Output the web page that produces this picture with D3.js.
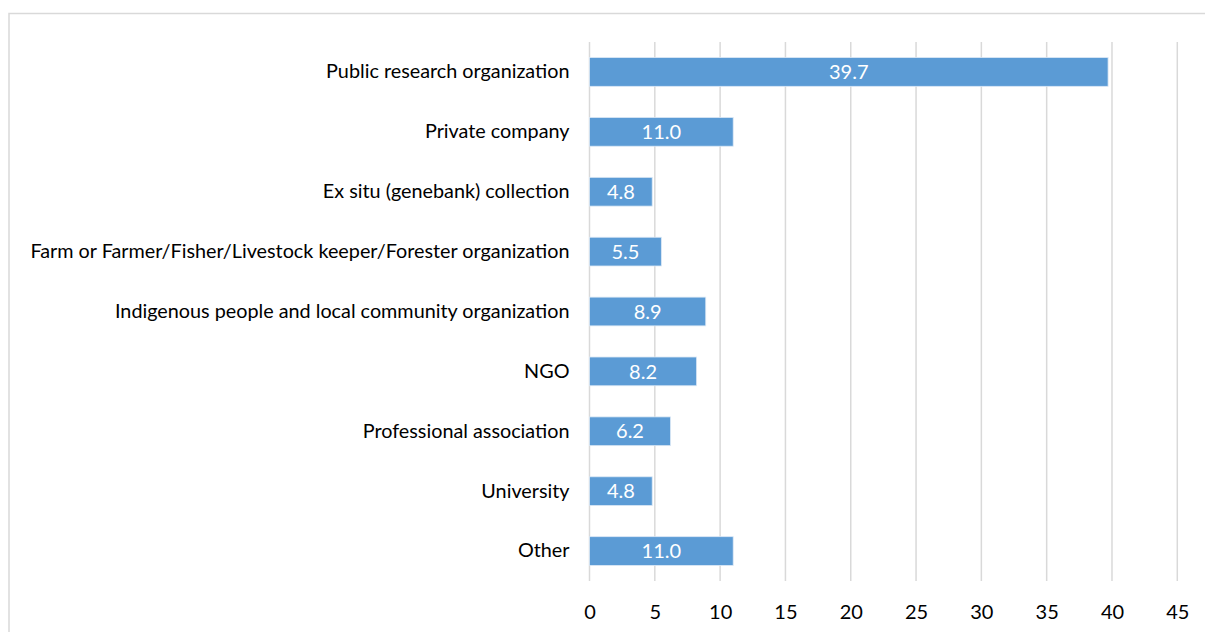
<!DOCTYPE html>
<html>
<head>
<meta charset="utf-8">
<script src="https://cdn.jsdelivr.net/npm/d3@7"></script>
<style>
  body { margin: 0; background: #fff; }
  svg text { font-family: Lato, "Open Sans", sans-serif; }
</style>
</head>
<body>
<script>
const categories = [
    "Public research organization",
    "Private company",
    "Ex situ (genebank) collection",
    "Farm or Farmer/Fisher/Livestock keeper/Forester organization",
    "Indigenous people and local community organization",
    "NGO",
    "Professional association",
    "University",
    "Other"
];
const values = [39.7, 11.0, 4.8, 5.5, 8.9, 8.2, 6.2, 4.8, 11.0];
const xTicks = [0, 5, 10, 15, 20, 25, 30, 35, 40, 45];

const w = 1205, h = 632;
const plotLeft = 589.5, plotRight = 1177.3;
const plotTop = 42, plotBottom = 581;

const svg = d3.select("body")
    .append("svg")
    .attr("width", w)
    .attr("height", h);

// chart frame
svg.append("path")
    .attr("d", "M9,640 L9,13.5 L1210,13.5")
    .attr("fill", "none")
    .attr("stroke", "#d9d9d9")
    .attr("stroke-width", 1.5);

const xScale = d3.scaleLinear()
    .domain([0, 45])
    .range([plotLeft, plotRight]);

const yScale = d3.scaleBand()
    .domain(categories)
    .range([plotTop, plotBottom])
    .paddingInner(0.52)
    .paddingOuter(0.26);

// gridlines
svg.append("g")
    .selectAll("line")
    .data(xTicks)
    .enter()
    .append("line")
    .attr("x1", d => xScale(d))
    .attr("x2", d => xScale(d))
    .attr("y1", plotTop)
    .attr("y2", plotBottom)
    .attr("stroke", "#d9d9d9")
    .attr("stroke-width", 1.5);

// bars
svg.append("g")
    .selectAll("rect")
    .data(values)
    .enter()
    .append("rect")
    .attr("x", xScale(0))
    .attr("y", (d, i) => yScale(categories[i]))
    .attr("width", d => xScale(d) - xScale(0))
    .attr("height", yScale.bandwidth())
    .attr("fill", "#5b9bd5")
    .attr("stroke", "#dbe8f5")
    .attr("stroke-width", 0.8);

// value labels
svg.append("g")
    .selectAll("text")
    .data(values)
    .enter()
    .append("text")
    .attr("x", d => (xScale(0) + xScale(d)) / 2)
    .attr("y", (d, i) => yScale(categories[i]) + yScale.bandwidth() / 2)
    .attr("dy", "0.36em")
    .attr("text-anchor", "middle")
    .attr("fill", "#fff")
    .attr("font-size", 20)
    .text(d => d.toFixed(1));

// category axis
const yAxis = svg.append("g")
    .attr("transform", "translate(" + (plotLeft - 20) + ",0)")
    .call(d3.axisLeft(yScale).tickSize(0).tickPadding(0));
yAxis.select(".domain").remove();
yAxis.selectAll("text")
    .attr("font-size", 19.8)
    .attr("fill", "#000")
    .style("font-family", "Lato, 'Open Sans', sans-serif");

// value axis
const xAxis = svg.append("g")
    .attr("transform", "translate(0," + 605 + ")")
    .call(d3.axisBottom(xScale).tickValues(xTicks).tickSize(0).tickPadding(0));
xAxis.select(".domain").remove();
xAxis.selectAll("text")
    .attr("font-size", 20)
    .attr("fill", "#000")
    .style("font-family", "Lato, 'Open Sans', sans-serif");
</script>
</body>
</html>
